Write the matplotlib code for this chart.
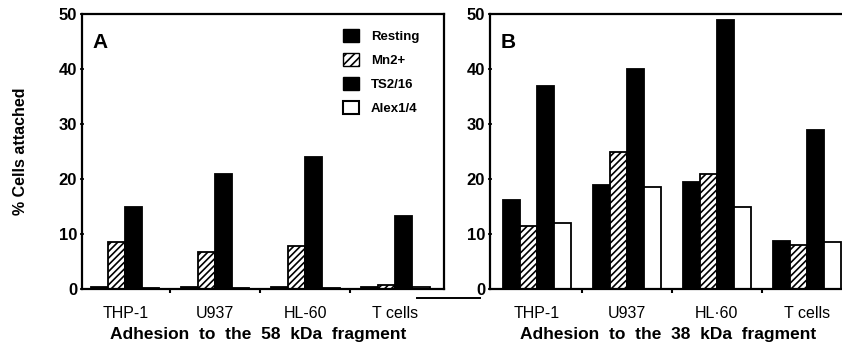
import matplotlib
matplotlib.use("Agg")
import matplotlib.pyplot as plt
import numpy as np
from matplotlib.lines import Line2D
from matplotlib.patches import Patch

plt.rcParams['font.family'] = ['Liberation Sans', 'DejaVu Sans']
plt.rcParams['hatch.linewidth'] = 1.2

categories = ["THP-1", "U937", "HL-60", "T cells"]
categories_b = ["THP-1", "U937", "HL\u00b760", "T cells"]
series = ["Resting", "Mn2+", "TS2/16", "Alex1/4"]

a_resting = [0.3, 0.3, 0.3, 0.4]
a_mn = [8.6, 6.8, 7.8, 0.8]
a_ts = [15.0, 21.0, 24.0, 13.2]
a_alex = [0.2, 0.2, 0.2, 0.3]

b_resting = [16.2, 19.0, 19.5, 8.8]
b_mn = [11.5, 25.0, 21.0, 8.0]
b_ts = [37.0, 40.0, 49.0, 29.0]
b_alex = [12.0, 18.5, 15.0, 8.5]

W, H = 842, 352
fig = plt.figure(figsize=(W/100, H/100), dpi=100)

def px_axes(x0, x1, y0, y1):
    return fig.add_axes([x0/W, 1 - y1/H, (x1-x0)/W, (y1-y0)/H])

axA = px_axes(82, 444, 14, 289)
axB = px_axes(490, 490 + 4.12*90, 14, 289)

styles = [dict(color='black', edgecolor='black'),
          dict(color='white', edgecolor='black', hatch='/////'),
          dict(color='black', edgecolor='black'),
          dict(color='white', edgecolor='black')]
bw = 0.19
x = np.arange(len(categories))

def draw(ax, data, cats, xlim, letter):
    for i, (vals, st) in enumerate(zip(data, styles)):
        ax.bar(x + (i - 1.5)*bw, vals, width=bw, linewidth=1.3, **st)
    ax.set_xlim(*xlim)
    ax.set_ylim(0, 50)
    ax.set_yticks([0, 10, 20, 30, 40, 50])
    ax.set_yticklabels(["0", "10", "20", "30", "40", "50"], fontsize=12, fontweight='bold')
    ax.set_xticks(x)
    ax.set_xticklabels(cats, fontsize=11.5)
    ax.tick_params(axis='x', length=0, pad=12)
    ax.set_xticks([0.5, 1.5, 2.5], minor=True)
    ax.tick_params(axis='x', which='minor', length=3, width=1.5, direction='out')
    ax.tick_params(axis='y', length=3, width=1.2, direction='inout', pad=2)
    for s in ax.spines.values():
        s.set_linewidth(1.6)
    ax.text(0.03, 0.93, letter, transform=ax.transAxes, fontsize=15,
            fontweight='bold', va='top', ha='left')

draw(axA, [a_resting, a_mn, a_ts, a_alex], categories, (-0.48, 3.54), "A")
draw(axB, [b_resting, b_mn, b_ts, b_alex], categories_b, (-0.52, 3.6), "B")

xlabA = "Adhesion  to  the  58  kDa  fragment"
xlabB = "Adhesion  to  the  38  kDa  fragment"
fig.text(258/W, 1 - 335/H, xlabA, ha='center', va='center', fontsize=12.5, fontweight='bold')
fig.text(668/W, 1 - 335/H, xlabB, ha='center', va='center', fontsize=12.5, fontweight='bold')

axA.set_ylabel("% Cells attached", fontsize=11.5, fontweight='bold', labelpad=22)

handles = [Patch(facecolor='black', edgecolor='black', label=series[0]),
           Patch(facecolor='white', edgecolor='black', hatch='////', label=series[1]),
           Patch(facecolor='black', edgecolor='black', label=series[2]),
           Patch(facecolor='white', edgecolor='black', linewidth=1.5, label=series[3])]
leg = axA.legend(handles=handles, loc='upper right', frameon=False,
                 prop=dict(size=9.5, weight='bold'), handlelength=1.2,
                 handleheight=1.2, handletextpad=0.9, labelspacing=0.75,
                 bbox_to_anchor=(0.965, 0.99))

fig.add_artist(Line2D([417/W, 480/W], [1 - 298/H, 1 - 298/H], color='black', lw=1.4))

fig.savefig("out.png", dpi=100)
